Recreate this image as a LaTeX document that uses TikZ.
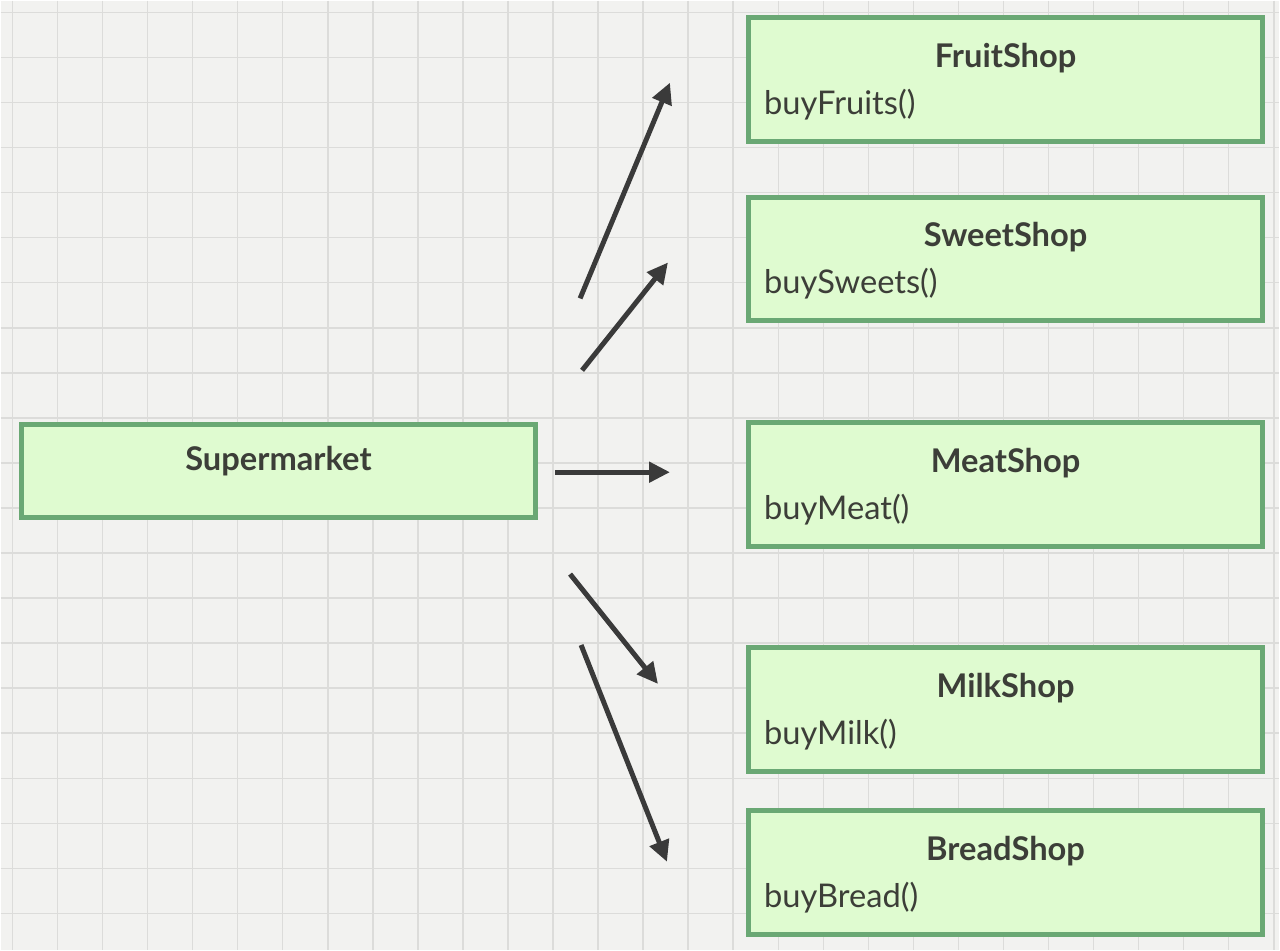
\documentclass[tikz,border=0pt]{standalone}
\usepackage{fontspec}
\setmainfont{Lato}
\usetikzlibrary{arrows.meta}
\definecolor{paper}{HTML}{F2F2F0}
\definecolor{gridgray}{HTML}{DCDCDA}
\definecolor{boxfill}{HTML}{DFFBD0}
\definecolor{boxline}{HTML}{6AA874}
\definecolor{ink}{HTML}{3C3E38}
\definecolor{arrowgray}{HTML}{3A3A3A}

\begin{document}
\begin{tikzpicture}[x=0.02cm, y=-0.02cm,
    gridline/.style={draw=gridgray, line width=0.03cm},
    classbox/.style={draw=boxline, fill=boxfill, line width=0.1cm,
      minimum width=10.3cm, inner sep=0pt},
    classname/.style={font=\fontsize{18.6}{22}\selectfont\bfseries, text=ink,
      anchor=base, inner sep=0pt},
    method/.style={font=\fontsize{18.6}{22}\selectfont, text=ink,
      anchor=base west, inner sep=0pt},
    link/.style={draw=arrowgray, line width=0.1cm,
      -{Triangle[length=0.42cm, width=0.4cm]}}]
  % paper
  \fill[paper] (0,0) rectangle (1280,950);
  \foreach \i in {0,...,28} \draw[gridline] (11.7+45.1*\i,0) -- (11.7+45.1*\i,950);
  \foreach \i in {0,...,20} \draw[gridline] (0,11.7+45.1*\i) -- (1280,11.7+45.1*\i);

  % client
  \node[classbox, minimum height=1.86cm] (super) at (278,471) {};
  \node[classname] (supername) at (278,470) {Supermarket};

  % shops
  \foreach \n/\y/\t/\m in {fruit/79/FruitShop/buyFruits(),
                           sweet/258.5/SweetShop/buySweets(),
                           meat/484/MeatShop/buyMeat(),
                           milk/709.5/MilkShop/buyMilk(),
                           bread/872.5/BreadShop/buyBread()}
  {
    \node[classbox, minimum height=2.48cm] (\n) at (1006,\y) {};
    \node[classname] (\n name) at (1006,\y-12) {\t};
    \node[method] (\n op) at (764,\y+35) {\m};
  }

  % calls
  \coordinate (s1) at (580,298);  \coordinate (e1) at (670,82);
  \coordinate (s2) at (582,370);  \coordinate (e2) at (668,262);
  \coordinate (s3) at (555,472);  \coordinate (e3) at (670,472);
  \coordinate (s4) at (570,574);  \coordinate (e4) at (658,684);
  \coordinate (s5) at (581,645);  \coordinate (e5) at (667,862);
  \foreach \k in {1,...,5} \draw[link] (s\k) -- (e\k);
\end{tikzpicture}
\end{document}
